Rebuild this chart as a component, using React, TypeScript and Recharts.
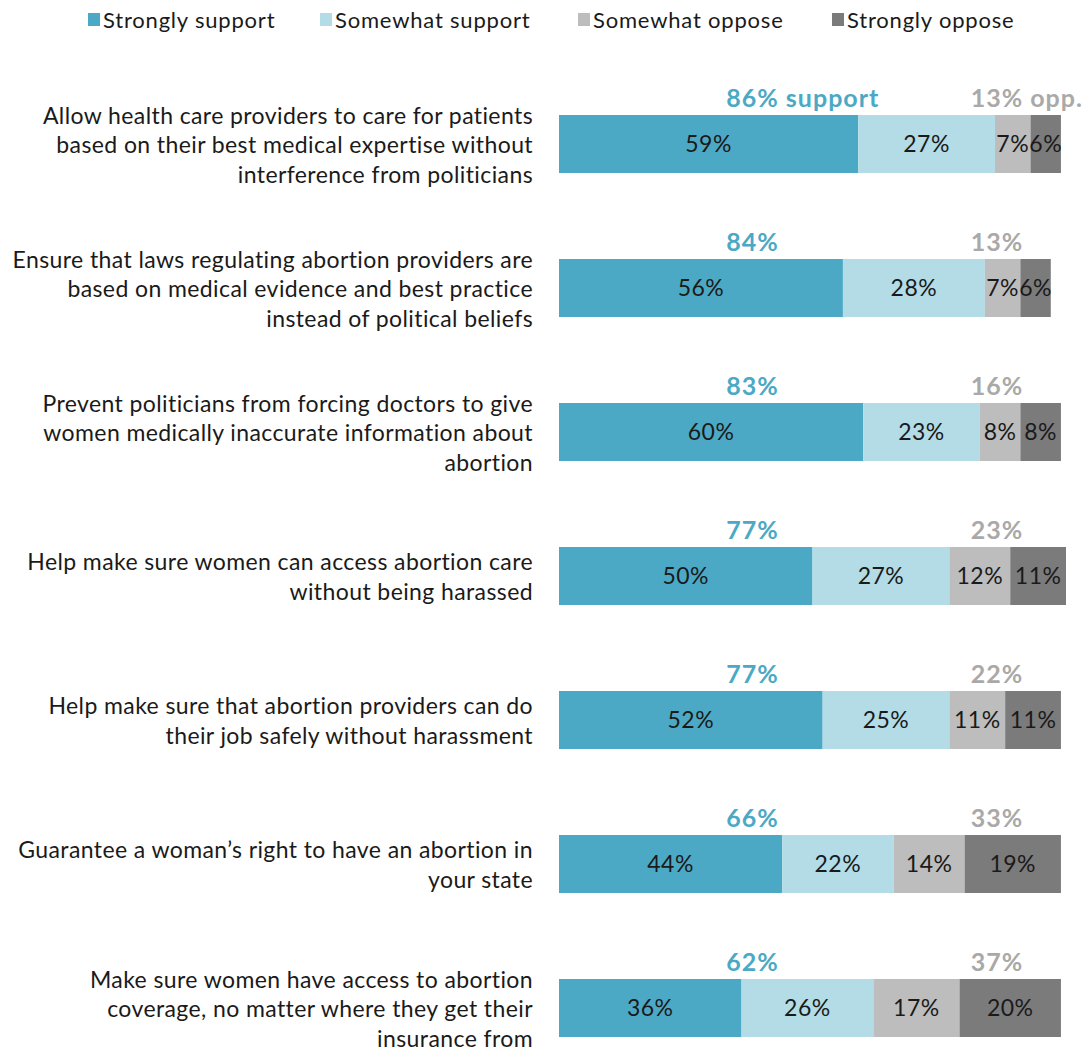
import React from 'react';
import { BarChart, Bar, XAxis, YAxis, LabelList } from 'recharts';

const categories = [
  'Allow health care providers to care for patients\nbased on their best medical expertise without\ninterference from politicians',
  'Ensure that laws regulating abortion providers are\nbased on medical evidence and best practice\ninstead of political beliefs',
  'Prevent politicians from forcing doctors to give\nwomen medically inaccurate information about\nabortion',
  'Help make sure women can access abortion care\nwithout being harassed',
  'Help make sure that abortion providers can do\ntheir job safely without harassment',
  'Guarantee a woman\u2019s right to have an abortion in\nyour state',
  'Make sure women have access to abortion\ncoverage, no matter where they get their\ninsurance from',
];

const stronglySupport = [59, 56, 60, 50, 52, 44, 36];
const somewhatSupport = [27, 28, 23, 27, 25, 22, 26];
const somewhatOppose = [7, 7, 8, 12, 11, 14, 17];
const stronglyOppose = [6, 6, 8, 11, 11, 19, 20];
const supportTotals = ['86% support', '84%', '83%', '77%', '77%', '66%', '62%'];
const opposeTotals = ['13% opp.', '13%', '16%', '23%', '22%', '33%', '37%'];

const seriesNames = ['Strongly support', 'Somewhat support', 'Somewhat oppose', 'Strongly oppose'];
const colors = ['#4BA9C6', '#B3DCE6', '#BDBDBD', '#7B7B7B'];

const data = categories.map((name, i) => ({
  name,
  ss: stronglySupport[i],
  sws: somewhatSupport[i],
  swo: somewhatOppose[i],
  so: stronglyOppose[i],
}));

const FONT = 'Lato, "Open Sans", sans-serif';

const CategoryTick = (props: any) => {
  const { x, y, payload } = props;
  const lines = String(payload.value).split('\n');
  const lh = 29.5;
  const start = y - ((lines.length - 1) * lh) / 2;
  return (
    <text x={x} y={start} textAnchor="end" fill="#1a1a1a" fontSize={23} letterSpacing={0.4} fontFamily={FONT} dominantBaseline="central">
      {lines.map((l, i) => (
        <tspan key={i} x={x} y={start + i * lh}>{l}</tspan>
      ))}
    </text>
  );
};

// totals drawn from the strongly-support segment, using its px-per-unit
const TotalsLabel = (props: any) => {
  const { x, y, width, index } = props;
  const unit = width / stronglySupport[index];
  return (
    <g fontFamily={FONT} fontWeight={700} fontSize={25}>
      <text x={x + unit * 33} y={y - 18} fill="#4BA9C6" dominantBaseline="central" letterSpacing={1}>
        {supportTotals[index]}
      </text>
      <text x={x + unit * 81.2} y={y - 18} fill="#A9A9A9" dominantBaseline="central" letterSpacing={1}>
        {opposeTotals[index]}
      </text>
    </g>
  );
};

const valueLabel = (key: string) => (
  <LabelList
    dataKey={key}
    position="center"
    formatter={(v: any) => `${v}%`}
    fill="#1a1a1a"
    fontSize={23}
    letterSpacing={0.5}
    fontFamily={FONT}
  />
);

const legendX = [88, 320, 578, 832];

export default function App() {
  return (
    <div style={{ position: 'absolute', left: 0, top: 0, width: 1091, height: 1053, background: '#fff' }}>
      {seriesNames.map((s, i) => (
        <div
          key={s}
          style={{
            position: 'absolute',
            left: legendX[i],
            top: 6,
            display: 'flex',
            alignItems: 'center',
            fontFamily: FONT,
            fontSize: 22,
            letterSpacing: 0.8,
            color: '#1a1a1a',
            whiteSpace: 'nowrap',
          }}
        >
          <span style={{ width: 12, height: 13, background: colors[i], marginRight: 3, display: 'inline-block' }} />
          {s}
        </div>
      ))}
      <BarChart
        width={1091}
        height={1053}
        data={data}
        layout="vertical"
        margin={{ top: 72, right: 25, bottom: -27, left: 0 }}
        barSize={58}
      >
        <XAxis type="number" domain={[0, 100]} hide />
        <YAxis
          type="category"
          dataKey="name"
          width={559}
          axisLine={false}
          tickLine={false}
          tickSize={0}
          tickMargin={26}
          tick={<CategoryTick />}
        />
        <Bar dataKey="ss" stackId="a" fill={colors[0]} isAnimationActive={false}>
          {valueLabel('ss')}
          <LabelList dataKey="ss" content={<TotalsLabel />} />
        </Bar>
        <Bar dataKey="sws" stackId="a" fill={colors[1]} isAnimationActive={false}>
          {valueLabel('sws')}
        </Bar>
        <Bar dataKey="swo" stackId="a" fill={colors[2]} isAnimationActive={false}>
          {valueLabel('swo')}
        </Bar>
        <Bar dataKey="so" stackId="a" fill={colors[3]} isAnimationActive={false}>
          {valueLabel('so')}
        </Bar>
      </BarChart>
    </div>
  );
}
